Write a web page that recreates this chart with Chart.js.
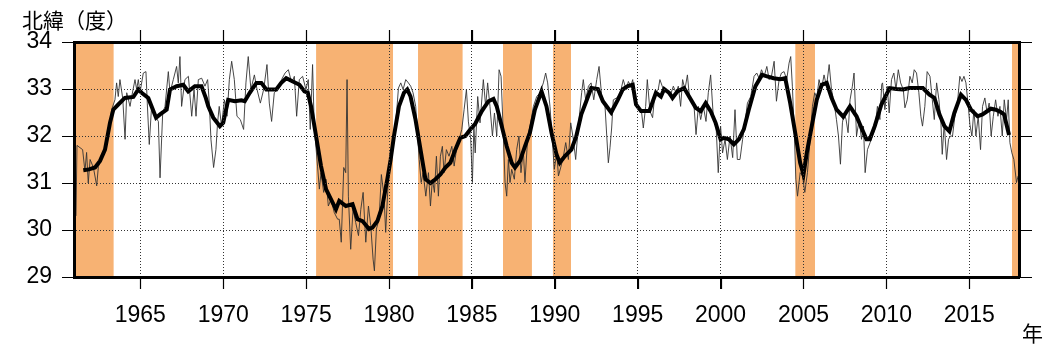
<!DOCTYPE html>
<html>
<head>
<meta charset="utf-8">
<script src="https://cdn.jsdelivr.net/npm/chart.js@4/dist/chart.umd.min.js"></script>
<style>
  body { margin: 0; background: #fff; }
  canvas { display: block; }
</style>
</head>
<body>
<canvas id="kuroshio" width="1064" height="347"></canvas>
<script>
const yTitle = '北緯（度）';
const xTitle = '年';

// 月平均（細線）
const thinYears = [
  1961.12, 1961.18, 1961.52, 1961.66, 1961.76, 1961.86, 1961.97, 1962.17, 1962.37, 1962.47,
  1962.77, 1963.07, 1963.27, 1963.47, 1963.57, 1963.67, 1963.77, 1963.94, 1964.08, 1964.18,
  1964.38, 1964.48, 1964.68, 1964.78, 1964.88, 1964.98, 1965.18, 1965.34, 1965.42, 1965.54,
  1965.68, 1965.89, 1966.09, 1966.19, 1966.35, 1966.49, 1966.69, 1966.79, 1966.99, 1967.19,
  1967.29, 1967.39, 1967.49, 1967.69, 1967.90, 1968.10, 1968.24, 1968.36, 1968.50, 1968.70,
  1968.90, 1969.06, 1969.16, 1969.26, 1969.42, 1969.56, 1969.66, 1969.76, 1969.90, 1970.07,
  1970.23, 1970.37, 1970.51, 1970.67, 1970.83, 1971.03, 1971.23, 1971.37, 1971.51, 1971.67,
  1971.88, 1972.04, 1972.24, 1972.44, 1972.64, 1972.78, 1972.92, 1973.08, 1973.28, 1973.52,
  1973.73, 1973.93, 1974.13, 1974.29, 1974.43, 1974.59, 1974.79, 1974.99, 1975.13, 1975.25,
  1975.39, 1975.49, 1975.69, 1975.80, 1975.90, 1976.06, 1976.20, 1976.34, 1976.50, 1976.70,
  1976.90, 1977.00, 1977.12, 1977.27, 1977.39, 1977.47, 1977.55, 1977.69, 1977.83, 1977.99,
  1978.16, 1978.30, 1978.44, 1978.60, 1978.76, 1978.90, 1979.04, 1979.12, 1979.24, 1979.40,
  1979.54, 1979.70, 1979.80, 1979.96, 1980.10, 1980.25, 1980.41, 1980.57, 1980.71, 1980.85,
  1981.01, 1981.17, 1981.31, 1981.45, 1981.61, 1981.82, 1981.94, 1982.06, 1982.22, 1982.38,
  1982.50, 1982.62, 1982.74, 1982.86, 1982.98, 1983.10, 1983.22, 1983.32, 1983.46, 1983.62,
  1983.79, 1983.93, 1984.07, 1984.23, 1984.39, 1984.53, 1984.67, 1984.79, 1984.93, 1985.03,
  1985.12, 1985.20, 1985.35, 1985.49, 1985.69, 1985.83, 1985.95, 1986.09, 1986.24, 1986.36,
  1986.50, 1986.64, 1986.76, 1986.90, 1987.00, 1987.10, 1987.20, 1987.30, 1987.40, 1987.56,
  1987.70, 1987.84, 1987.96, 1988.10, 1988.20, 1988.37, 1988.51, 1988.71, 1988.91, 1989.11,
  1989.31, 1989.45, 1989.57, 1989.71, 1989.85, 1989.97, 1990.12, 1990.22, 1990.38, 1990.52,
  1990.66, 1990.82, 1990.96, 1991.12, 1991.26, 1991.42, 1991.62, 1991.72, 1991.86, 1992.03,
  1992.19, 1992.35, 1992.53, 1992.67, 1992.83, 1993.03, 1993.23, 1993.33, 1993.43, 1993.53,
  1993.73, 1993.93, 1994.13, 1994.30, 1994.44, 1994.58, 1994.70, 1994.84, 1995.04, 1995.24,
  1995.34, 1995.48, 1995.58, 1995.74, 1995.90, 1996.04, 1996.24, 1996.34, 1996.55, 1996.75,
  1996.95, 1997.15, 1997.31, 1997.45, 1997.59, 1997.71, 1997.85, 1998.00, 1998.12, 1998.26,
  1998.40, 1998.52, 1998.66, 1998.80, 1998.96, 1999.12, 1999.26, 1999.40, 1999.56, 1999.72,
  1999.86, 2000.00, 2000.12, 2000.27, 2000.41, 2000.57, 2000.73, 2000.87, 2001.01, 2001.17,
  2001.33, 2001.47, 2001.62, 2001.82, 2002.02, 2002.18, 2002.32, 2002.47, 2002.63, 2002.79,
  2002.93, 2003.07, 2003.23, 2003.37, 2003.53, 2003.67, 2003.83, 2003.99, 2004.13, 2004.23,
  2004.33, 2004.44, 2004.54, 2004.64, 2004.80, 2004.94, 2005.08, 2005.24, 2005.40, 2005.54,
  2005.68, 2005.80, 2005.94, 2006.08, 2006.24, 2006.39, 2006.55, 2006.69, 2006.85, 2006.99,
  2007.11, 2007.23, 2007.35, 2007.45, 2007.57, 2007.69, 2007.81, 2007.95, 2008.05, 2008.20,
  2008.36, 2008.50, 2008.62, 2008.72, 2008.86, 2009.02, 2009.16, 2009.30, 2009.46, 2009.61,
  2009.72, 2009.77, 2009.91, 2010.05, 2010.17, 2010.31, 2010.45, 2010.58, 2010.72, 2010.86,
  2011.02, 2011.12, 2011.26, 2011.42, 2011.56, 2011.68, 2011.82, 2011.96, 2012.08, 2012.18,
  2012.32, 2012.46, 2012.63, 2012.77, 2012.89, 2013.03, 2013.17, 2013.29, 2013.37, 2013.49,
  2013.63, 2013.75, 2013.87, 2013.99, 2014.13, 2014.27, 2014.43, 2014.56, 2014.68, 2014.80,
  2014.94, 2015.04, 2015.16, 2015.28, 2015.40, 2015.54, 2015.68, 2015.80, 2015.94, 2016.08,
  2016.20, 2016.32, 2016.45, 2016.59, 2016.73, 2016.85, 2016.99, 2017.11, 2017.25, 2017.35,
  2017.45, 2017.57, 2017.69, 2017.85, 2017.95
];
const thinValues = [
  30.30, 31.80, 31.71, 31.25, 31.65, 31.00, 31.50, 31.33, 30.94, 31.35,
  31.64, 32.07, 32.56, 32.77, 33.13, 32.84, 33.20, 32.80, 31.93, 32.92,
  32.63, 32.84, 33.20, 32.99, 33.20, 32.92, 33.34, 33.37, 32.70, 31.82,
  32.63, 32.42, 32.31, 31.11, 32.49, 32.63, 33.37, 32.92, 33.20, 33.48,
  33.13, 33.69, 32.63, 33.20, 33.27, 32.42, 32.99, 32.42, 33.20, 33.23,
  33.06, 33.20, 32.70, 31.93, 31.33, 31.71, 32.28, 32.63, 32.21, 32.77,
  32.42, 33.20, 33.59, 33.20, 32.42, 32.35, 32.14, 33.13, 33.69, 32.99,
  33.30, 32.99, 32.70, 32.99, 33.52, 32.70, 32.31, 32.92, 32.99, 33.20,
  33.34, 33.41, 33.13, 33.27, 32.42, 33.20, 33.27, 32.99, 33.20, 32.14,
  33.52, 32.21, 31.36, 30.87, 31.22, 30.80, 31.08, 30.51, 30.65, 30.37,
  30.23, 30.23, 29.74, 31.33, 31.22, 33.20, 30.72, 29.59, 30.44, 30.16,
  29.88, 30.44, 30.80, 29.74, 30.51, 30.09, 29.38, 29.13, 30.02, 30.23,
  31.18, 30.72, 29.95, 31.08, 31.50, 31.93, 32.28, 33.02, 33.13, 32.99,
  33.20, 33.13, 33.06, 32.92, 32.63, 31.50, 31.01, 31.22, 30.72, 31.22,
  30.51, 31.08, 30.80, 31.57, 30.72, 31.57, 31.78, 31.22, 31.71, 31.57,
  31.78, 31.36, 31.71, 31.93, 32.14, 32.56, 32.99, 32.30, 31.93, 31.01,
  32.20, 31.64, 32.84, 32.28, 33.20, 32.63, 33.13, 32.63, 32.00, 32.49,
  32.00, 33.41, 33.27, 32.00, 31.01, 30.72, 31.50, 31.01, 31.29, 31.08,
  31.71, 32.00, 31.22, 31.71, 31.01, 32.00, 32.21, 32.63, 32.84, 32.92,
  33.13, 33.34, 33.13, 32.63, 31.93, 31.29, 31.64, 31.15, 31.36, 31.57,
  31.86, 31.50, 32.28, 31.93, 31.50, 32.21, 32.92, 33.20, 32.77, 33.06,
  33.13, 32.77, 33.20, 33.48, 32.84, 32.63, 31.43, 31.75, 32.17, 32.77,
  32.81, 32.88, 33.20, 32.99, 33.16, 33.06, 33.20, 32.70, 32.56, 32.49,
  32.17, 32.63, 33.20, 32.53, 32.39, 32.92, 32.99, 33.20, 32.99, 32.92,
  32.84, 33.06, 32.92, 33.06, 32.63, 33.20, 32.99, 33.30, 32.84, 32.74,
  32.63, 32.03, 32.63, 32.35, 32.63, 32.31, 32.92, 33.30, 32.42, 32.28,
  31.22, 32.21, 31.64, 31.93, 31.50, 32.00, 31.54, 32.56, 31.50, 31.50,
  31.93, 32.28, 32.70, 32.84, 33.27, 33.34, 33.23, 33.41, 33.27, 33.48,
  33.20, 33.27, 33.59, 32.74, 33.20, 33.34, 33.37, 33.20, 33.55, 33.69,
  33.06, 32.14, 31.08, 30.72, 31.22, 31.15, 30.80, 31.22, 31.93, 32.63,
  32.92, 32.81, 33.20, 32.99, 33.30, 33.06, 33.52, 32.99, 32.70, 32.35,
  32.00, 31.40, 32.28, 32.49, 32.35, 32.07, 32.77, 33.06, 33.34, 32.00,
  32.35, 31.93, 32.21, 31.22, 31.71, 31.86, 32.00, 32.14, 32.63, 32.35,
  33.10, 33.13, 32.56, 33.06, 32.49, 33.20, 33.34, 32.99, 33.41, 33.13,
  32.99, 32.60, 32.77, 33.27, 33.13, 33.41, 33.34, 32.92, 32.42, 32.21,
  32.63, 33.37, 33.27, 32.77, 32.35, 33.13, 32.77, 32.28, 31.61, 32.28,
  31.50, 31.93, 32.00, 32.00, 32.42, 32.63, 33.27, 33.16, 33.27, 33.13,
  32.63, 32.24, 32.00, 32.56, 32.00, 32.42, 31.71, 32.63, 32.81, 32.49,
  32.70, 32.00, 32.42, 32.77, 32.42, 32.63, 32.00, 32.77, 32.35, 32.77,
  31.86, 31.64, 31.50, 31.01, 31.15
];

// 移動平均（太線）
const thickYears = [
  1961.56, 1961.90, 1962.27, 1962.57, 1962.87, 1963.17, 1963.37, 1963.67, 1964.07, 1964.58,
  1964.88, 1965.08, 1965.48, 1965.95, 1966.19, 1966.59, 1966.79, 1967.19, 1967.59, 1967.89,
  1968.29, 1968.69, 1968.95, 1969.10, 1969.40, 1969.80, 1970.00, 1970.30, 1970.70, 1971.10,
  1971.30, 1971.60, 1972.00, 1972.30, 1972.60, 1973.20, 1973.50, 1973.80, 1974.20, 1974.60,
  1974.90, 1975.10, 1975.30, 1975.60, 1975.90, 1976.20, 1976.60, 1976.80, 1977.00, 1977.40,
  1977.80, 1978.10, 1978.40, 1978.80, 1979.00, 1979.30, 1979.60, 1979.90, 1980.10, 1980.30,
  1980.60, 1980.90, 1981.10, 1981.30, 1981.60, 1981.90, 1982.20, 1982.50, 1982.80, 1983.10,
  1983.40, 1983.70, 1984.00, 1984.30, 1984.60, 1984.90, 1985.20, 1985.60, 1986.00, 1986.30,
  1986.50, 1986.80, 1987.10, 1987.40, 1987.60, 1987.90, 1988.20, 1988.50, 1988.80, 1989.20,
  1989.50, 1989.80, 1990.10, 1990.30, 1990.60, 1991.00, 1991.30, 1991.60, 1991.90, 1992.20,
  1992.60, 1992.90, 1993.40, 1993.80, 1994.10, 1994.40, 1994.70, 1994.90, 1995.20, 1995.70,
  1996.10, 1996.40, 1996.60, 1996.90, 1997.10, 1997.40, 1997.80, 1998.10, 1998.50, 1998.80,
  1999.10, 1999.40, 1999.70, 2000.00, 2000.20, 2000.50, 2000.80, 2001.10, 2001.40, 2001.70,
  2002.10, 2002.50, 2002.80, 2003.20, 2003.60, 2003.90, 2004.20, 2004.50, 2004.80, 2005.00,
  2005.20, 2005.50, 2005.80, 2006.10, 2006.40, 2006.70, 2007.00, 2007.40, 2007.80, 2008.20,
  2008.50, 2008.80, 2009.00, 2009.30, 2009.70, 2009.90, 2010.20, 2010.60, 2011.00, 2011.40,
  2011.80, 2012.20, 2012.60, 2012.90, 2013.20, 2013.50, 2013.80, 2014.10, 2014.50, 2014.80,
  2015.10, 2015.50, 2015.80, 2016.30, 2016.60, 2016.90, 2017.10, 2017.40
];
const thickValues = [
  31.27, 31.29, 31.33, 31.47, 31.71, 32.28, 32.56, 32.67, 32.81, 32.83,
  32.99, 32.92, 32.81, 32.39, 32.46, 32.56, 32.99, 33.06, 33.09, 32.95,
  33.06, 33.06, 32.81, 32.63, 32.39, 32.21, 32.28, 32.77, 32.74, 32.76,
  32.74, 32.92, 33.13, 33.13, 32.99, 32.99, 33.13, 33.23, 33.16, 33.09,
  32.95, 32.92, 32.63, 32.00, 31.36, 30.87, 30.58, 30.44, 30.62, 30.51,
  30.55, 30.23, 30.19, 30.02, 30.05, 30.19, 30.51, 31.08, 31.50, 32.00,
  32.63, 32.92, 32.99, 32.84, 32.35, 31.71, 31.08, 31.00, 31.08, 31.18,
  31.33, 31.43, 31.71, 31.96, 32.00, 32.14, 32.26, 32.53, 32.74, 32.79,
  32.63, 32.21, 31.78, 31.43, 31.33, 31.47, 31.78, 32.07, 32.56, 32.95,
  32.63, 32.07, 31.61, 31.43, 31.57, 31.71, 32.00, 32.46, 32.74, 33.02,
  33.00, 32.74, 32.50, 32.77, 32.99, 33.06, 33.09, 32.67, 32.53, 32.53,
  32.92, 32.84, 33.00, 32.92, 32.81, 32.95, 33.02, 32.84, 32.60, 32.53,
  32.70, 32.53, 32.28, 31.93, 31.96, 31.93, 31.82, 31.93, 32.14, 32.56,
  33.06, 33.30, 33.27, 33.23, 33.21, 33.23, 32.70, 32.07, 31.43, 31.18,
  31.64, 32.21, 32.77, 33.09, 33.13, 32.81, 32.56, 32.41, 32.63, 32.42,
  32.17, 31.93, 31.93, 32.21, 32.67, 32.81, 33.02, 33.00, 32.99, 33.02,
  33.02, 33.02, 32.88, 32.81, 32.46, 32.21, 32.10, 32.49, 32.88, 32.77,
  32.56, 32.42, 32.46, 32.58, 32.56, 32.51, 32.46, 32.02
];

// 大蛇行期間
const meanderStart = [1961.0, 1975.6, 1981.75, 1986.87, 1989.88, 2004.5, 2017.57];
const meanderEnd = [1963.4, 1980.25, 1984.45, 1988.62, 1990.98, 2005.7, 2018.0];

const xTicks = [1965, 1970, 1975, 1980, 1985, 1990, 1995, 2000, 2005, 2010, 2015];
const yTicks = [29, 30, 31, 32, 33, 34];
const xMin = 1961, xMax = 2018, yMin = 29, yMax = 34;

const bandColor = '#f7b273';
const labelFont = { family: "'Liberation Sans', Arial, sans-serif", size: 23 };

const toPoints = (xs, ys) => xs.map((x, i) => ({ x: x, y: ys[i] }));

const bandSets = meanderStart.map((s, i) => ({
  data: [{ x: s, y: yMax }, { x: meanderEnd[i], y: yMax }],
  fill: { value: yMin },
  backgroundColor: bandColor,
  borderWidth: 0,
  pointRadius: 0,
  order: 3
}));

const setTicks = values => axis => { axis.ticks = values.map(v => ({ value: v })); };

// 枠の外側の目盛線
const outerTicks = {
  id: 'outerTicks',
  afterDraw(chart) {
    const { ctx, chartArea: a, scales } = chart;
    ctx.save();
    ctx.strokeStyle = '#000';
    ctx.lineWidth = 1.2;
    ctx.setLineDash([]);
    ctx.beginPath();
    xTicks.forEach(v => {
      const x = Math.round(scales.x.getPixelForValue(v)) + 0.5;
      ctx.moveTo(x, a.top - 12);
      ctx.lineTo(x, a.top);
      ctx.moveTo(x, a.bottom);
      ctx.lineTo(x, a.bottom + 12);
    });
    yTicks.forEach(v => {
      const y = Math.round(scales.y.getPixelForValue(v)) + 0.5;
      ctx.moveTo(a.left - 12, y);
      ctx.lineTo(a.left, y);
      ctx.moveTo(a.right, y);
      ctx.lineTo(a.right + 13, y);
    });
    ctx.stroke();
    ctx.restore();
  }
};

// 軸見出し
const axisTitles = {
  id: 'axisTitles',
  afterDraw(chart) {
    const { ctx, chartArea } = chart;
    ctx.save();
    ctx.fillStyle = '#000';
    ctx.font = "21px 'Noto Sans CJK JP', sans-serif";
    ctx.textBaseline = 'middle';
    ctx.textAlign = 'left';
    ctx.fillText(yTitle, chartArea.left - 52, 20);
    ctx.fillText(xTitle, chartArea.right + 3, 333);
    ctx.restore();
  }
};

const ctx = document.getElementById('kuroshio').getContext('2d');

new Chart(ctx, {
  type: 'line',
  data: {
    datasets: [
      {
        data: toPoints(thickYears, thickValues),
        borderColor: '#000',
        borderWidth: 4,
        pointRadius: 0,
        fill: false,
        order: 1
      },
      {
        data: toPoints(thinYears, thinValues),
        borderColor: '#333',
        borderWidth: 0.9,
        pointRadius: 0,
        fill: false,
        order: 2
      },
      ...bandSets
    ]
  },
  options: {
    responsive: false,
    animation: false,
    layout: { padding: 0 },
    plugins: {
      legend: { display: false },
      tooltip: { enabled: false }
    },
    scales: {
      x: {
        type: 'linear',
        position: 'bottom',
        min: xMin,
        max: xMax,
        afterBuildTicks: setTicks(xTicks),
        afterFit: axis => { axis.height = 70; },
        ticks: { font: labelFont, color: '#000', padding: 13, maxRotation: 0, callback: v => String(v) },
        grid: { z: 1, color: '#333', tickColor: '#000', tickLength: 12, tickBorderDash: [] },
        border: { z: 2, color: '#000', width: 3, dash: [1, 2] }
      },
      x2: {
        type: 'linear',
        position: 'top',
        min: xMin,
        max: xMax,
        afterBuildTicks: setTicks(xTicks),
        afterFit: axis => { axis.height = 42; },
        ticks: { display: false },
        grid: { z: 1, drawOnChartArea: false, color: '#000', tickColor: '#000', tickLength: 12 },
        border: { z: 2, color: '#000', width: 3 }
      },
      y: {
        type: 'linear',
        position: 'left',
        min: yMin,
        max: yMax,
        afterBuildTicks: setTicks(yTicks),
        afterFit: axis => { axis.width = 74; },
        ticks: { font: labelFont, color: '#000', padding: 10 },
        grid: { z: 1, color: '#333', tickColor: '#000', tickLength: 12, tickBorderDash: [] },
        border: { z: 2, color: '#000', width: 3, dash: [1, 2] }
      },
      y2: {
        type: 'linear',
        position: 'right',
        min: yMin,
        max: yMax,
        afterBuildTicks: setTicks(yTicks),
        afterFit: axis => { axis.width = 45; },
        ticks: { display: false },
        grid: { z: 1, drawOnChartArea: false, color: '#000', tickColor: '#000', tickLength: 13 },
        border: { z: 2, color: '#000', width: 3 }
      }
    }
  },
  plugins: [outerTicks, axisTitles]
});
</script>
</body>
</html>
